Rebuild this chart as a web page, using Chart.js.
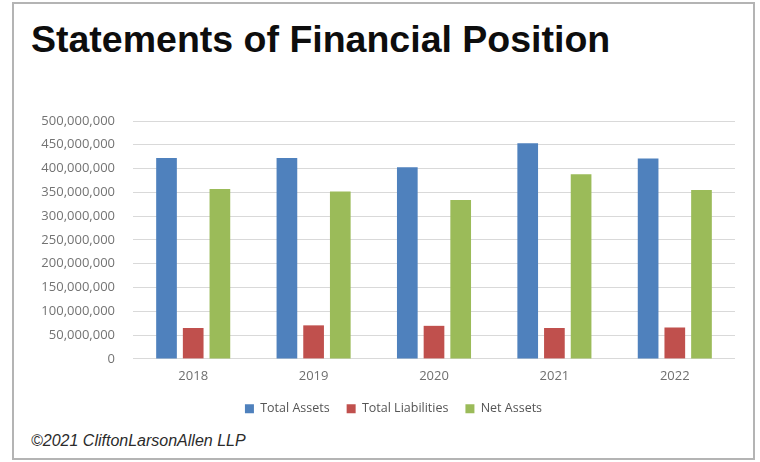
<!DOCTYPE html>
<html>
<head>
<meta charset="utf-8">
<script src="https://cdn.jsdelivr.net/npm/chart.js@4"></script>
<style>
body{margin:0;background:#fff}
#wrap{position:relative;width:760px;height:462px;overflow:hidden;background:#fff}
#frame{position:absolute;left:12px;top:2px;width:739px;height:454px;border:2px solid #b4b4b4}
#title{position:absolute;left:31px;top:21px;font:bold 37.5px "Liberation Sans",Arial,sans-serif;line-height:37px;color:#0d0d0d;white-space:nowrap}
#foot{position:absolute;left:31px;top:433px;font:italic 16px "Liberation Sans",Arial,sans-serif;line-height:16px;color:#2b2b2b;white-space:nowrap}
#c{position:absolute;left:0;top:0}
</style>
</head>
<body>
<div id="wrap">
<div id="frame"></div>
<div id="title">Statements of Financial Position</div>
<div id="foot">©2021 CliftonLarsonAllen LLP</div>
<canvas id="c" width="760" height="462"></canvas>
</div>
<script>

const years=["2018","2019","2020","2021","2022"]

const totalAssets=[422000000,422000000,403000000,453000000,421000000]
const totalLiabilities=[65000000,70500000,69500000,65000000,66000000]
const netAssets=[357000000,352000000,334000000,388000000,355000000]

const yTicks=[0,50000000,100000000,150000000,200000000,250000000,300000000,350000000,400000000,450000000,500000000]

const seriesNames=["Total Assets","Total Liabilities","Net Assets"]
const seriesColors=["#4f81bd","#c0504d","#9bbb59"]


/* move the legend a bit, it sits off centre in the picture */

const legendShift={
id:"legendShift",
afterLayout(chart){
let lg=chart.legend
lg.left+=11
lg.right+=11
lg.top-=1
lg.bottom-=1
}
}


/* CHART */

new Chart(document.getElementById("c"),{

type:"bar",

data:{
labels:years,
datasets:[totalAssets,totalLiabilities,netAssets].map((d,i)=>({
label:seriesNames[i],
data:d,
backgroundColor:seriesColors[i],
borderWidth:0,
barPercentage:0.775,
categoryPercentage:0.665
}))
},

options:{
responsive:false,
animation:false,
layout:{padding:{top:121,left:30,right:25,bottom:36}},
plugins:{
tooltip:{enabled:false},
legend:{
position:"bottom",
labels:{
boxWidth:9,
boxHeight:9,
padding:17,
color:"#555",
font:{family:"Open Sans",size:12.5}
}
}
},
scales:{
x:{
grid:{display:false},
border:{display:false},
ticks:{
color:"#6f6f6f",
padding:2,
font:{family:"Open Sans",size:13}
}
},
y:{
min:0,
max:500000000,
afterBuildTicks:s=>{s.ticks=yTicks.map(v=>({value:v}))},
afterFit:s=>{s.width=103},
grid:{color:"#d9d9d9",lineWidth:1,drawTicks:false},
border:{display:false},
ticks:{
color:"#737373",
padding:18,
font:{family:"Open Sans",size:13},
callback:v=>v.toLocaleString("en-US")
}
}
}
},

plugins:[legendShift]

})

</script>
</body>
</html>
